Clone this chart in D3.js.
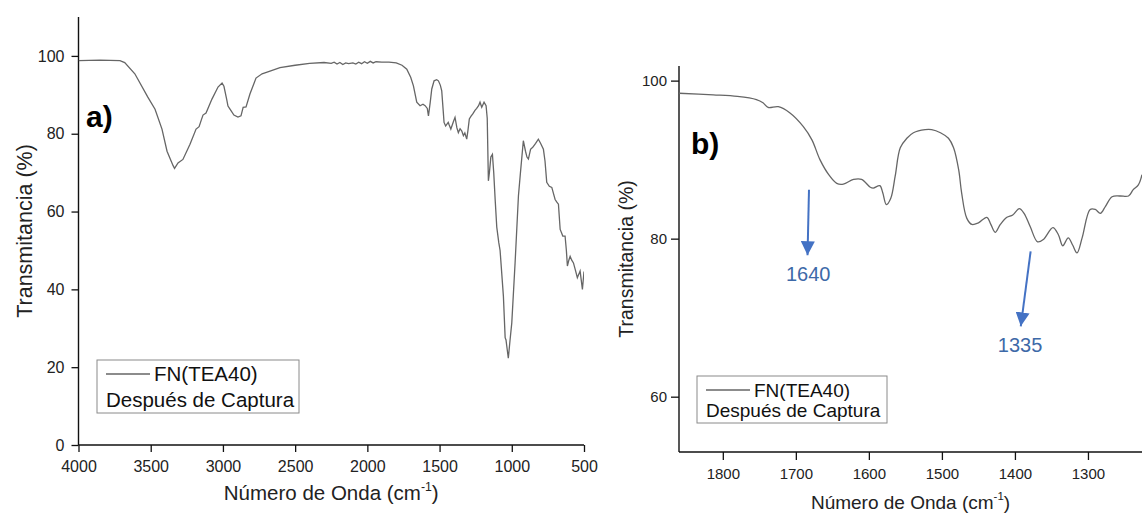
<!DOCTYPE html>
<html><head><meta charset="utf-8">
<script src="https://cdn.jsdelivr.net/npm/d3@7"></script>
<style>
html,body{margin:0;padding:0;background:#fff;}
svg{display:block;font-family:"Liberation Sans",Arial,sans-serif;}
</style></head>
<body>
<svg id="c" width="1142" height="514"></svg>
<script>
// ---- Data ----
const waveA = [4000,3850,3713,3680,3610,3520,3470,3422,3387,3345,3335,3311,3277,3228,3186,3165,3150,3138,3117,3076,3034,3006,2993,2975,2965,2951,2924,2896,2875,2860,2840,2813,2771,2729,2674,2605,2500,2400,2300,2250,2230,2210,2190,2170,2150,2130,2100,2080,2060,2040,2020,2000,1980,1960,1940,1900,1850,1800,1760,1727,1700,1681,1658,1635,1615,1600,1585,1577,1565,1554,1538,1520,1508,1495,1485,1475,1469,1458,1450,1440,1434,1422,1405,1393,1380,1370,1358,1346,1335,1325,1312,1303,1294,1282,1270,1255,1243,1230,1220,1208,1192,1178,1170,1162,1155,1145,1134,1125,1115,1104,1090,1081,1058,1046,1040,1035,1024,1012,1000,977,954,940,920,905,895,885,870,855,835,816,800,781,770,758,740,723,700,688,677,665,655,647,631,622,615,605,596,585,573,560,546,527,511,500];
const transA = [98.8,98.9,98.8,98.3,95.4,89.4,86.3,81.2,75.5,71.8,71.1,72.5,73.4,77.3,81.2,81.8,83.5,84.8,85.3,88.9,92.0,93.0,92.2,89.0,87.1,86.3,84.8,84.3,84.6,86.8,86.9,90.2,94.3,95.4,96.1,97.0,97.6,98.1,98.3,98.1,98.4,97.9,98.3,97.8,98.2,98.0,98.2,97.9,98.4,98.0,98.5,98.1,98.6,98.2,98.5,98.4,98.4,98.2,97.6,96.6,94.5,92.3,88.1,87.2,87.6,87.2,86.5,84.6,88.0,91.5,93.6,93.9,93.6,92.5,91.0,86.0,82.9,82.0,82.4,82.9,82.3,81.2,83.0,84.2,81.5,80.3,81.3,80.7,79.5,80.2,78.6,81.0,83.8,84.5,85.1,86.0,86.5,87.2,88.1,86.8,88.1,87.2,84.0,67.9,70.0,74.0,74.7,70.0,63.0,56.0,52.0,50.0,38.2,27.6,27.0,25.5,22.3,27.0,31.4,46.9,64.0,70.0,78.2,75.5,74.0,73.5,76.0,76.5,77.5,78.6,77.5,76.0,73.0,67.5,66.5,66.2,63.1,62.4,61.9,55.4,54.5,53.7,53.7,50.0,46.0,47.5,48.5,47.5,46.8,45.0,43.0,44.7,40.0,44.6];

const waveB = [1860,1813,1780,1754,1745,1738,1724,1708,1690,1678,1667,1655,1644,1635,1621,1610,1598,1594,1585,1581,1576,1570,1564,1557,1548,1539,1523,1514,1502,1491,1484,1477,1473,1466,1459,1450,1438.5,1433,1427,1420,1411,1403,1394,1387.5,1379,1369,1361,1348,1340.5,1334.5,1327,1321,1315,1308,1297,1290,1283,1276,1267,1256,1244.5,1238,1231,1226];
const transB = [98.4,98.2,98.0,97.6,97.2,96.6,96.7,95.9,94.2,92.5,90.0,88.1,87.0,86.9,87.5,87.5,86.5,86.4,86.7,85.8,84.3,85.1,87.9,91.5,92.7,93.4,93.8,93.8,93.4,92.7,91.5,88.7,85.8,82.6,81.8,82.0,82.7,81.8,80.8,81.8,82.7,83.0,83.8,83.2,81.5,79.6,79.9,81.4,80.5,79.1,80.1,79.2,78.2,80.1,83.7,83.7,83.2,84.1,85.3,85.4,85.4,86.2,86.8,88.1];

const ticksAX = [4000,3500,3000,2500,2000,1500,1000,500];
const ticksAY = [0,20,40,60,80,100];
const ticksBX = [1800,1700,1600,1500,1400,1300];
const ticksBY = [60,80,100];

const seriesName = "FN(TEA40)";
const seriesSub = "Después de Captura";
const xTitle = "Número de Onda (cm";
const yTitle = "Transmitancia (%)";
const annotations = [
  {label:"1640", x0:1682, y0:86.2, x1:1684, y1:77.9, tx:1683, ty:74.6},
  {label:"1335", x0:1378.5, y0:78.4, x1:1392, y1:68.9, tx:1393, ty:65.7}
];

const svg = d3.select("#c");
const lineColor = "#666";
const blue = "#4472C4";

function panel(opt){
  const g = svg.append("g");
  const x = d3.scaleLinear().domain(opt.xd).range(opt.xr);
  const y = d3.scaleLinear().domain(opt.yd).range(opt.yr);
  const clipId = "clip" + opt.id;
  svg.append("defs").append("clipPath").attr("id", clipId)
    .append("rect").attr("x", opt.xr[0]).attr("y", opt.yr[1])
    .attr("width", opt.xr[1]-opt.xr[0]).attr("height", opt.yr[0]-opt.yr[1]);
  const gx = g.append("g").attr("transform", `translate(0,${opt.yr[0]})`);
  gx.call(d3.axisBottom(x).tickValues(opt.minX).tickSize(4).tickFormat(""));
  gx.call(d3.axisBottom(x).tickValues(opt.tx).tickSize(opt.tickLen).tickPadding(opt.padX).tickFormat(d3.format("d")));
  const gy = g.append("g").attr("transform", `translate(${opt.xr[0]},0)`);
  gy.call(d3.axisLeft(y).tickValues(opt.minY).tickSize(4).tickFormat(""));
  gy.call(d3.axisLeft(y).tickValues(opt.ty).tickSize(opt.tickLen).tickPadding(opt.padY).tickFormat(d3.format("d")));
  [gx,gy].forEach(a=>{
    a.selectAll(".domain").attr("stroke","#111").attr("stroke-width",1.4);
    a.selectAll(".tick line").attr("stroke","#111").attr("stroke-width",1.3);
    a.selectAll("text").attr("font-size",opt.fs).attr("fill","#222").attr("font-family","Liberation Sans, Arial, sans-serif");
  });
  gy.select(".domain").attr("d", `M-0,${opt.yr[0]}V${opt.yr[1]}`);
  gx.select(".domain").attr("d", `M${opt.xr[0]},0H${opt.xr[1]}`);

  const data = opt.w.map((w,i)=>[w,opt.t[i]]);
  const line = d3.line().x(d=>x(d[0])).y(d=>y(d[1])).curve(opt.curve);
  g.append("path").datum(data).attr("d", line).attr("fill","none")
    .attr("stroke",lineColor).attr("stroke-width",1.3).attr("clip-path",`url(#${clipId})`);

  const xt = g.append("text").attr("x",(opt.xr[0]+opt.xr[1])/2).attr("y",opt.xtY)
    .attr("text-anchor","middle").attr("font-size",opt.tfs).attr("fill","#222");
  xt.append("tspan").text(xTitle);
  xt.append("tspan").text("-1").attr("font-size",opt.tfs*0.6).attr("dy",-opt.tfs*0.45);
  xt.append("tspan").text(")").attr("dy",opt.tfs*0.45);
  g.append("text").attr("transform",`translate(${opt.ytX},${(opt.yr[0]+opt.yr[1])/2}) rotate(-90)`)
    .attr("text-anchor","middle").attr("font-size",opt.ytfs).attr("fill","#222").text(yTitle);
  g.append("text").attr("x",opt.lx).attr("y",opt.ly).attr("font-size",30).attr("font-weight","bold")
    .attr("fill","#000").text(opt.letter);
  const L = opt.leg;
  g.append("rect").attr("x",L.x).attr("y",L.y).attr("width",L.w).attr("height",L.h)
    .attr("fill","#fff").attr("stroke","#8a8a8a").attr("stroke-width",1);
  g.append("line").attr("x1",L.x+9).attr("x2",L.x+53).attr("y1",L.y+14).attr("y2",L.y+14)
    .attr("stroke",lineColor).attr("stroke-width",1.3);
  g.append("text").attr("x",L.x+57).attr("y",L.y+21).attr("font-size",L.fs).attr("fill","#111").text(seriesName);
  g.append("text").attr("x",L.x+9).attr("y",L.y+L.h-6).attr("font-size",L.fs).attr("fill","#111").text(seriesSub);
  return {x,y,g};
}

panel({id:"A", xd:[4000,500], xr:[78.5,584], yd:[0,110], yr:[445,17],
  tx:ticksAX, ty:ticksAY, minX:d3.range(3750,500,-500), minY:d3.range(10,110,20),
  tickLen:7, padX:9, padY:7, fs:16, tfs:20.5, ytfs:21.5, xtY:500, ytX:32,
  w:waveA, t:transA, curve:d3.curveLinear, letter:"a)", lx:86, ly:127,
  leg:{x:97,y:360,w:202,h:53,fs:20.5}});

const B = panel({id:"B", xd:[1860,1226], xr:[679,1142], yd:[53,101.85], yr:[452,66],
  tx:ticksBX, ty:ticksBY, minX:[1850,1750,1650,1550,1450,1350,1250], minY:[70,90],
  tickLen:8, padX:8, padY:4, fs:15, tfs:19, ytfs:19.5, xtY:509, ytX:633,
  w:waveB, t:transB, curve:d3.curveCatmullRom.alpha(0.5), letter:"b)", lx:691, ly:154,
  leg:{x:697,y:376,w:190,h:47,fs:19}});

const defs = svg.append("defs");
defs.append("marker").attr("id","arr").attr("viewBox","0 0 10 10").attr("refX",10).attr("refY",5)
  .attr("markerWidth",7).attr("markerHeight",7).attr("orient","auto").attr("markerUnits","strokeWidth")
  .append("path").attr("d","M0,0L10,5L0,10z").attr("fill",blue);
annotations.forEach(a=>{
  B.g.append("line").attr("x1",B.x(a.x0)).attr("y1",B.y(a.y0)).attr("x2",B.x(a.x1)).attr("y2",B.y(a.y1))
    .attr("stroke",blue).attr("stroke-width",2).attr("marker-end","url(#arr)");
  B.g.append("text").attr("x",B.x(a.tx)).attr("y",B.y(a.ty)).attr("text-anchor","middle")
    .attr("font-size",20).attr("fill","#3d69a8").text(a.label);
});
</script>
</body></html>
